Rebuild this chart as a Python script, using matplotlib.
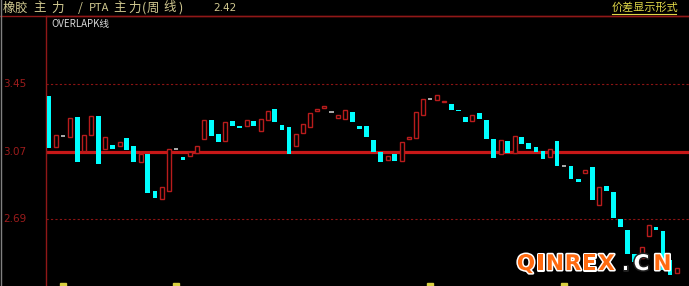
import matplotlib
matplotlib.use("Agg")
import numpy as np
from matplotlib import pyplot as plt
from matplotlib import transforms
import matplotlib.patheffects as pe

plt.rcParams["font.family"] = ["Noto Sans CJK SC", "DejaVu Sans"]

# weekly spread candles (open, close); close < open -> falling (cyan)
opens = [
    3.383, 3.098, 3.160, 3.152, 3.267, 3.073, 3.164, 3.271, 3.083, 3.106,
    3.103, 3.145, 3.102, 3.010, 3.056, 2.848, 2.803, 2.848, 3.085, 3.038,
    3.047, 3.060, 3.139, 3.248, 3.168, 3.128, 3.241, 3.216, 3.213, 3.241,
    3.188, 3.248, 3.312, 3.222, 3.210, 3.103, 3.173, 3.209, 3.301, 3.314,
    3.292, 3.258, 3.252, 3.295, 3.214, 3.216, 3.135, 3.069, 3.023, 3.056,
    3.019, 3.143, 3.148, 3.278, 3.365, 3.363, 3.348, 3.337, 3.306, 3.267,
    3.243, 3.286, 3.246, 3.143, 3.055, 3.131, 3.064, 3.152, 3.117, 3.096,
    3.073, 3.038, 3.131, 2.989, 2.987, 2.915, 2.951, 2.985, 2.767, 2.878,
    2.842, 2.688, 2.628, 2.493, 2.470, 2.594, 2.643, 2.622, 2.459, 2.387,
]
closes = [
    3.089, 3.162, 3.160, 3.261, 3.013, 3.165, 3.271, 2.998, 3.151, 3.086,
    3.122, 3.077, 3.013, 3.056, 2.835, 2.807, 2.872, 3.085, 3.085, 3.023,
    3.066, 3.102, 3.248, 3.158, 3.122, 3.237, 3.213, 3.201, 3.246, 3.213,
    3.252, 3.301, 3.237, 3.192, 3.056, 3.168, 3.227, 3.288, 3.312, 3.327,
    3.292, 3.275, 3.305, 3.237, 3.196, 3.152, 3.068, 3.013, 3.044, 3.017,
    3.122, 3.151, 3.292, 3.365, 3.365, 3.391, 3.354, 3.303, 3.297, 3.237,
    3.275, 3.252, 3.141, 3.032, 3.135, 3.060, 3.158, 3.115, 3.086, 3.069,
    3.030, 3.083, 2.987, 2.989, 2.917, 2.900, 2.966, 2.797, 2.869, 2.848,
    2.694, 2.647, 2.493, 2.449, 2.534, 2.654, 2.628, 2.402, 2.374, 2.415,
]
grid_levels = [3.45, 3.07, 2.69]
grid_labels = ["3.45", "3.07", "2.69"]
year_marks = [2, 18, 54, 73]
last_value = "2.42"
# header title, drawn piece by piece to copy the wide spacing of the terminal font
title_parts = ["橡", "胶", "主", "力", "/", "PTA", "主", "力", "(", "周", "线", ")"]
title_x = [3, 15, 33, 51, 78, 89, 113, 128, 142, 147, 163, 178]
mark_letters = list("QINREX") + list(".CN")
mark_x = [526, 540.5, 555, 573, 589, 606.5, 625.5, 641.5, 662.5]

W, H = 689, 286
fig = plt.figure(figsize=(W / 100, H / 100), dpi=100, facecolor="black")
ax = fig.add_axes([46 / W, 0, (W - 46) / W, (H - 16) / H], facecolor="black")

o = np.array(opens)
c = np.array(closes)
x = np.arange(len(o))
up = c > o
down = c < o
flat = c == o

ax.bar(x[down], (o - c)[down], bottom=c[down], width=0.66,
       color="#00ffff", edgecolor="#00ffff", linewidth=0, zorder=3)
ax.bar(x[up], (c - o)[up], bottom=o[up], width=0.56,
       facecolor="black", edgecolor="#b81c1c", linewidth=1.0, zorder=3)
ax.hlines(o[flat], x[flat] - 0.32, x[flat] + 0.32, color="#c8c8c8",
          linewidth=1.2, zorder=3)

# reference lines
ax.axhline(3.07, color="#c81818", linewidth=2.3, zorder=2)
for lv in (3.45, 2.69):
    ax.axhline(lv, color="#8c1414", linewidth=0.8, linestyle=(0, (2, 2)), zorder=1)

ax.set_xlim(-0.425, 90.7)
ax.set_ylim(2.312, 3.835)
ax.set_xticks([])
ax.set_yticks([])
for s in ("right", "bottom"):
    ax.spines[s].set_visible(False)
for s in ("left", "top"):
    ax.spines[s].set_color("#901818")
    ax.spines[s].set_linewidth(1.0)

# y labels at the far left
tr = transforms.blended_transform_factory(fig.transFigure, ax.transData)
for lv, lb in zip(grid_levels, grid_labels):
    ax.text(3 / W, lv, lb, transform=tr, color="#9c1c1c", fontsize=7.5,
            ha="left", va="center", family="DejaVu Sans")

# year markers at the bottom
trx = transforms.blended_transform_factory(ax.transData, fig.transFigure)
for m in year_marks:
    ax.add_patch(plt.Rectangle((m - 0.4, 0), 0.8, 3 / H, transform=trx,
                               color="#d8d040", clip_on=False, zorder=4))

# header
fig.add_artist(plt.Line2D([0, 1], [1 - 16 / H] * 2, color="#901818", linewidth=1.0))
fig.add_artist(plt.Line2D([0.5 / W] * 2, [0, 1], color="#808080", linewidth=1.0))
for part, px in zip(title_parts, title_x):
    fig.text(px / W, 1 - 8 / H, part, color="#d0c890",
             fontsize=8 if part == "PTA" else 9, ha="left", va="center")
fig.text(213 / W, 1 - 8 / H, last_value, color="#d0c890", fontsize=7.5,
         ha="left", va="center", family="DejaVu Sans")
fig.text(612 / W, 1 - 8 / H, "价差显示形式", color="#e0d848", fontsize=8,
         ha="left", va="center")
fig.add_artist(plt.Line2D([612 / W, 676 / W], [1 - 14 / H] * 2,
                          color="#e0d848", linewidth=0.8))
fig.text(51 / W, 1 - 24 / H, "OVERLAPK线", color="#d8d8d8", fontsize=7,
         ha="left", va="center")

# watermark
for ch, px in zip(mark_letters, mark_x):
    if ch in "QINREX":
        col, edge = "#ff6a10", "white"
    else:
        col, edge = "white", "#202020"
    fig.text(px / W, 1 - 264 / H, ch, color=col, fontsize=15.5,
             fontweight="bold", ha="center", va="center", family="DejaVu Sans",
             path_effects=[pe.withStroke(linewidth=2.2, foreground=edge)])

fig.savefig("out.png", dpi=100, facecolor="black")
